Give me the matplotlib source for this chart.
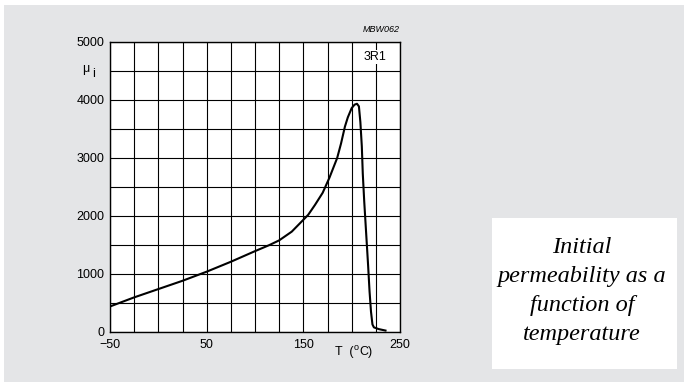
import matplotlib
matplotlib.use("Agg")
import matplotlib.pyplot as plt
from matplotlib.patches import Rectangle
import numpy as np

# curve (T in deg C, initial permeability)
temps = [-50, -25, 0, 25, 50, 75, 100, 115, 125, 138, 146, 155, 162, 170, 177, 185,
         189, 193, 196, 200, 203, 205.5, 207.5, 209, 210.5, 211.5, 213, 215, 217,
         218.5, 220, 221.5, 223, 228, 235]
mu_i = [440, 597, 740, 883, 1040, 1211, 1394, 1500, 1580, 1730, 1866, 2020, 2190,
        2400, 2660, 3000, 3250, 3540, 3700, 3860, 3920, 3935, 3890, 3620, 3200,
        2730, 2250, 1700, 1150, 700, 350, 130, 80, 50, 25]

x_ticks = [-50, 50, 150, 250]
x_tick_labels = ["\u221250", "50", "150", "250"]
y_ticks = [0, 1000, 2000, 3000, 4000, 5000]
x_grid = np.arange(-50, 251, 25)
y_grid = np.arange(0, 5001, 500)

caption = "Initial\npermeability as a\nfunction of\ntemperature"

plt.rcParams["font.family"] = ["Liberation Sans", "DejaVu Sans"]

W, H = 684, 382
fig = plt.figure(figsize=(W / 100, H / 100), dpi=100)
fig.patch.set_facecolor("white")

# grey page background with white card for the caption (behind the axes)
fig.patches.append(Rectangle((4 / W, 0), 1, (H - 5) / H, transform=fig.transFigure,
                             facecolor="#e4e5e7", edgecolor="none", zorder=-3))
fig.patches.append(Rectangle((492 / W, (H - 369) / H), (677 - 492) / W, (369 - 218) / H,
                             transform=fig.transFigure, facecolor="white",
                             edgecolor="none", zorder=-2))

ax = fig.add_axes([110 / W, (H - 332) / H, 290 / W, 290 / H])
ax.set_facecolor("white")
ax.set_xlim(-50, 250)
ax.set_ylim(0, 5000)

for gx in x_grid:
    ax.axvline(gx, color="black", lw=0.8, zorder=1)
for gy in y_grid:
    ax.axhline(gy, color="black", lw=0.8, zorder=1)

ax.plot(temps, mu_i, color="black", lw=1.5, zorder=3, solid_joinstyle="round")

ax.set_xticks(x_ticks)
ax.set_xticklabels(x_tick_labels)
ax.set_yticks(y_ticks)
ax.tick_params(length=0, labelsize=9, pad=4)
ax.tick_params(axis="x", pad=5)
for s in ax.spines.values():
    s.set_linewidth(1.0)

# axis labels placed like the datasheet
ax.text(-75, 4530, "\u03bc", fontsize=9, ha="center", va="center", clip_on=False)
ax.text(-67.5, 4440, "i", fontsize=9, ha="center", va="center", clip_on=False)
ax.text(202, -340, "T  (", fontsize=9, ha="right", va="center", clip_on=False)
ax.text(202, -260, "o", fontsize=6.5, ha="left", va="center", clip_on=False)
ax.text(208, -340, "C)", fontsize=9, ha="left", va="center", clip_on=False)
ax.text(250, 5140, "MBW062", fontsize=6.5, style="italic", ha="right", va="bottom",
        clip_on=False)
ax.text(224.6, 4740, "3R1", fontsize=9, ha="center", va="center", zorder=4,
        bbox=dict(facecolor="white", edgecolor="none", pad=1))

fig.text(582 / W, (H - 291) / H, caption, fontsize=17.5, style="italic",
         family=["Liberation Serif", "DejaVu Serif"], ha="center", va="center",
         linespacing=1.5, zorder=2)

fig.savefig("out.png", dpi=100, facecolor=fig.get_facecolor())
